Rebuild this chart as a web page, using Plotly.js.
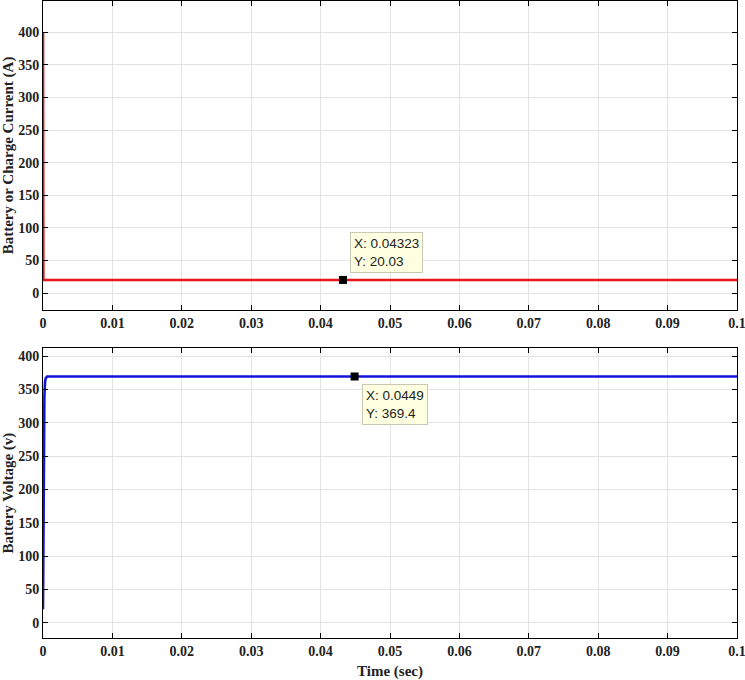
<!DOCTYPE html>
<html><head><meta charset="utf-8">
<script src="https://cdn.plot.ly/plotly-3.0.1.min.js"></script>
<style>html,body{margin:0;padding:0;background:#fff;}#chart{width:745px;height:680px;}</style>
</head><body><div id="chart"></div>
<script>
// Battery / charge current (A)
const timeCurrent = [0, 0, 0.00005, 0.1];
const current = [400, 400, 20.03, 20.03];
// Battery voltage (v)
const timeVoltage = [0, 0.0001, 0.0002, 0.0003, 0.0004, 0.0006, 0.1];
const voltage = [20, 230, 340, 362, 367, 369.4, 369.4];
// Data tips
const tipCurrent = {x: 0.04323, y: 20.03};
const tipVoltage = {x: 0.0449, y: 369.4};
const xTicks = [0, 0.01, 0.02, 0.03, 0.04, 0.05, 0.06, 0.07, 0.08, 0.09, 0.1];
const xTickLabels = ['0','0.01','0.02','0.03','0.04','0.05','0.06','0.07','0.08','0.09','0.1'];
const yTicks = [0, 50, 100, 150, 200, 250, 300, 350, 400];

const tickFont = {family: 'Liberation Serif, Times New Roman, serif', size: 14, color: '#222'};
const titleFont = {family: 'Liberation Serif, Times New Roman, serif', size: 15, color: '#222'};

const data = [
  {x: timeCurrent, y: current, type: 'scatter', mode: 'lines', line: {color: '#e8141a', width: 2.6}, xaxis: 'x', yaxis: 'y', hoverinfo: 'skip'},
  {x: [tipCurrent.x], y: [tipCurrent.y], type: 'scatter', mode: 'markers', marker: {symbol: 'square', color: '#000', size: 8}, xaxis: 'x', yaxis: 'y'},
  {x: timeVoltage, y: voltage, type: 'scatter', mode: 'lines', line: {color: '#1414d8', width: 2.6}, xaxis: 'x2', yaxis: 'y2', hoverinfo: 'skip'},
  {x: [tipVoltage.x], y: [tipVoltage.y], type: 'scatter', mode: 'markers', marker: {symbol: 'square', color: '#000', size: 8}, xaxis: 'x2', yaxis: 'y2'}
];

function xax(anchor, title) {
  const a = {
    anchor: anchor, range: [0, 0.1], tickvals: xTicks, ticktext: xTickLabels.map(t => '<b>' + t + '</b>'),
    showgrid: true, gridcolor: '#e3e3e3', zeroline: false,
    showline: true, linecolor: '#000', linewidth: 1, mirror: 'ticks',
    ticks: 'inside', ticklen: 5, tickcolor: '#000', tickfont: tickFont,
    ticklabeloverflow: 'allow'
  };
  if (title) a.title = {text: title, font: titleFont, standoff: 7};
  return a;
}
function yax(anchor, domain, range, title) {
  return {
    anchor: anchor, domain: domain, range: range, tickvals: yTicks, ticktext: yTicks.map(t => '<b>' + t + '</b>'),
    showgrid: true, gridcolor: '#e3e3e3', zeroline: false,
    showline: true, linecolor: '#000', linewidth: 1, mirror: 'ticks',
    ticks: 'inside', ticklen: 5, tickcolor: '#000', tickfont: tickFont,
    title: {text: title, font: titleFont, standoff: 6}
  };
}

const tipFont = {family: 'Liberation Sans, Arial, sans-serif', size: 13.5, color: '#222'};
const layout = {
  width: 745, height: 680,
  margin: {l: 43, r: 8, t: 1, b: 42},
  paper_bgcolor: '#fff', plot_bgcolor: '#fff',
  showlegend: false,
  xaxis: xax('y', null),
  yaxis: yax('x', [0.515, 1], [-26, 448], '<b>Battery or Charge Current (A)</b>'),
  xaxis2: xax('y2', '<b>Time (sec)</b>'),
  yaxis2: yax('x2', [0, 0.455], [-23, 412], '<b>Battery Voltage (v)</b>'),
  annotations: [
    {xref: 'x', yref: 'y', x: tipCurrent.x, y: tipCurrent.y, showarrow: false,
     text: 'X: ' + tipCurrent.x + '<br>Y: ' + tipCurrent.y.toFixed(2),
     xanchor: 'left', yanchor: 'bottom', align: 'left', xshift: 7, yshift: 7,
     bgcolor: '#ffffe1', bordercolor: '#c8c8b4', borderwidth: 1, borderpad: 3, font: tipFont},
    {xref: 'x2', yref: 'y2', x: tipVoltage.x, y: tipVoltage.y, showarrow: false,
     text: 'X: ' + tipVoltage.x + '<br>Y: ' + tipVoltage.y,
     xanchor: 'left', yanchor: 'top', align: 'left', xshift: 7, yshift: -7,
     bgcolor: '#ffffe1', bordercolor: '#c8c8b4', borderwidth: 1, borderpad: 3, font: tipFont}
  ]
};
Plotly.newPlot('chart', data, layout, {displayModeBar: false, staticPlot: true});
</script>
</body></html>
